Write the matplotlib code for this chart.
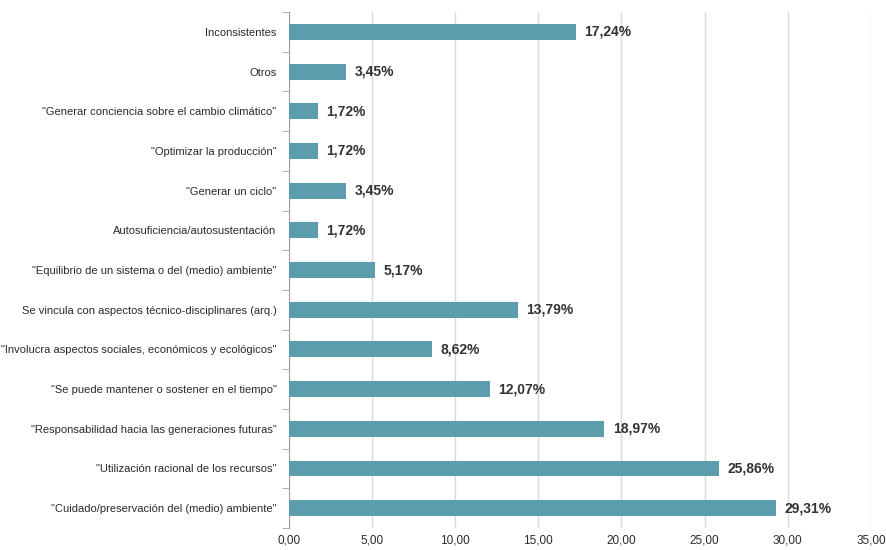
import matplotlib
matplotlib.use("Agg")
import matplotlib.pyplot as plt
import numpy as np
from matplotlib.ticker import FixedLocator, FuncFormatter

# categories listed from the bottom bar to the top bar
categorias = [
    '"Cuidado/preservación del (medio) ambiente"',
    '"Utilización racional de los recursos"',
    '"Responsabilidad hacia las generaciones futuras"',
    '"Se puede mantener o sostener en el tiempo"',
    '"Involucra aspectos sociales, económicos y ecológicos"',
    'Se vincula con aspectos técnico-disciplinares (arq.)',
    '"Equilibrio de un sistema o del (medio) ambiente"',
    'Autosuficiencia/autosustentación',
    '"Generar un ciclo"',
    '"Optimizar la producción"',
    '"Generar conciencia sobre el cambio climático"',
    'Otros',
    'Inconsistentes',
]
porcentajes = [29.31, 25.86, 18.97, 12.07, 8.62, 13.79, 5.17, 1.72, 3.45, 1.72, 1.72, 3.45, 17.24]
xticks = [0, 5, 10, 15, 20, 25, 30, 35]

plt.rcParams['font.family'] = ['Liberation Sans', 'DejaVu Sans']

fig = plt.figure(figsize=(8.87, 5.5), dpi=100)
ax = fig.add_axes([0.3258, 0.04, 0.656, 0.938])

y = np.arange(len(categorias))
ax.barh(y, porcentajes, height=0.4, color='#5b9dac', zorder=3)

# value labels to the right of each bar, decimal comma
for yi, v in zip(y, porcentajes):
    ax.text(v + 0.5, yi, f'{v:.2f}'.replace('.', ',') + '%', va='center', ha='left',
            fontsize=10, fontweight='bold', color='#333333', zorder=4)

ax.set_xlim(0, 35)
ax.set_ylim(-0.5, len(categorias) - 0.5)

ax.set_yticks(y)
ax.set_yticklabels(categorias, fontsize=8, color='#2a2a2a')
ax.yaxis.set_minor_locator(FixedLocator(np.arange(-0.5, len(categorias), 1)))
ax.tick_params(axis='y', which='major', length=0, pad=9)
ax.tick_params(axis='y', which='minor', length=5, color='#a0a0a0', direction='out')

ax.set_xticks(xticks)
ax.xaxis.set_major_formatter(FuncFormatter(lambda v, p: f'{v:.2f}'.replace('.', ',')))
ax.tick_params(axis='x', length=0, pad=5, labelsize=8.5, labelcolor='#2a2a2a')

ax.grid(axis='x', color='#d9d9d9', linewidth=1, zorder=0)
for s in ['top', 'right', 'bottom']:
    ax.spines[s].set_visible(False)
ax.spines['left'].set_color('#a0a0a0')

fig.savefig('out.png', dpi=100)
